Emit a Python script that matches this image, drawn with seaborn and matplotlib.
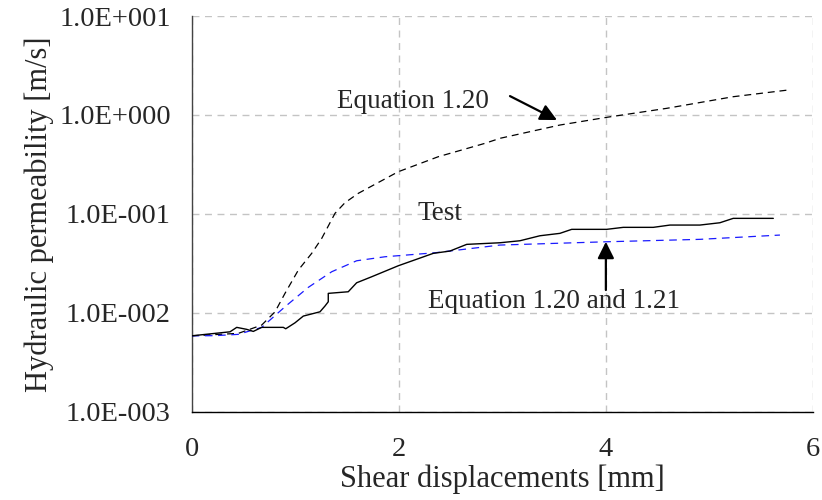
import numpy as np
import pandas as pd
import matplotlib
matplotlib.use("Agg")
import matplotlib.pyplot as plt
import seaborn as sns
from matplotlib.ticker import LogLocator, FixedLocator, NullFormatter

# ---- data ----
test_x = [0.00, 0.370, 0.435, 0.531, 0.595, 0.676, 0.885, 0.908, 0.998, 1.078, 1.239, 1.287,
          1.319, 1.319, 1.512, 1.593, 1.738, 1.995, 2.333, 2.494, 2.656, 2.977, 3.170, 3.363,
          3.556, 3.670, 4.008, 4.168, 4.458, 4.619, 4.908, 5.101, 5.230, 5.617]
test_y = [0.00585, 0.00642, 0.00712, 0.00680, 0.00648, 0.00712, 0.00712, 0.00689, 0.00792,
          0.00926, 0.01023, 0.01169, 0.01292, 0.01571, 0.01631, 0.02010, 0.02312, 0.02987,
          0.03987, 0.04206, 0.04915, 0.05102, 0.05346, 0.06005, 0.06350, 0.06972, 0.06972,
          0.07304, 0.07304, 0.07703, 0.07703, 0.08128, 0.09004, 0.09004]

eq120_x = [0.0, 0.450, 0.676, 0.805, 0.901, 1.030, 1.159, 1.256, 1.384, 1.480, 1.609, 1.995,
           2.381, 2.832, 2.977, 3.556, 4.008, 4.588, 5.230, 5.761]
eq120_y = [0.00585, 0.00619, 0.00751, 0.01023, 0.01571, 0.02702, 0.03987, 0.05653, 0.1012,
           0.1295, 0.1612, 0.2666, 0.3779, 0.5161, 0.5799, 0.7903, 0.9456, 1.166, 1.528, 1.786]

eq121_x = [0.0, 0.225, 0.450, 0.676, 0.901, 1.126, 1.352, 1.593, 1.867, 2.350, 2.977, 4.008,
           4.908, 5.681]
eq121_y = [0.00585, 0.00587, 0.00605, 0.00712, 0.01150, 0.01806, 0.02598, 0.03355, 0.03684,
           0.04043, 0.04836, 0.05222, 0.05524, 0.06103]

x_ticks = [0, 2, 4, 6]
y_ticks = [1e-3, 1e-2, 1e-1, 1e0, 1e1]
y_tick_labels = ["1.0E-003", "1.0E-002", "1.0E-001", "1.0E+000", "1.0E+001"]

# ---- style ----
sns.set_style("white")
plt.rcParams["font.family"] = ["Liberation Serif", "DejaVu Serif"]
plt.rcParams["lines.scale_dashes"] = False

fig = plt.figure(figsize=(8.22, 5.0), dpi=100)
ax = fig.add_axes([0.2332, 0.1766, 0.989 - 0.2332, 0.968 - 0.1766])

df_test = pd.DataFrame({"x": test_x, "y": test_y})
df_120 = pd.DataFrame({"x": eq120_x, "y": eq120_y})
df_121 = pd.DataFrame({"x": eq121_x, "y": eq121_y})

sns.lineplot(data=df_120, x="x", y="y", ax=ax, estimator=None, sort=False,
             color="black", lw=0.9, linestyle=(0, (5, 3.5)), zorder=3)
sns.lineplot(data=df_121, x="x", y="y", ax=ax, estimator=None, sort=False,
             color="#1a1aff", lw=0.9, linestyle=(0, (5.5, 4)), zorder=3)
sns.lineplot(data=df_test, x="x", y="y", ax=ax, estimator=None, sort=False,
             color="black", lw=1.0, zorder=4)

ax.set_yscale("log")
ax.set_xlim(0, 6)
ax.set_ylim(1e-3, 1e1)

ax.xaxis.set_major_locator(FixedLocator(x_ticks))
ax.xaxis.set_minor_locator(FixedLocator([1, 3, 5]))
ax.set_xticklabels([str(v) for v in x_ticks])
ax.yaxis.set_major_locator(FixedLocator(y_ticks))
ax.set_yticklabels(y_tick_labels)
ax.yaxis.set_minor_locator(LogLocator(base=10, subs=np.arange(2, 10)))
ax.yaxis.set_minor_formatter(NullFormatter())

ax.grid(True, which="major", color="#c4c4c4", linestyle=(0, (5, 4)), lw=1.0)
ax.set_axisbelow(True)

for s in ["top", "right"]:
    ax.spines[s].set_visible(False)
ax.spines["left"].set_color("#444444")
ax.spines["bottom"].set_color("black")
ax.spines["left"].set_linewidth(1.0)
ax.spines["bottom"].set_linewidth(1.0)

ax.tick_params(axis="x", which="major", direction="inout", length=14, width=1.0,
               color="#444444", labelsize=20.5, pad=11)
ax.tick_params(axis="x", which="minor", direction="out", length=5, width=1.0, color="#666666")
ax.tick_params(axis="y", which="major", direction="out", length=8, width=1.0,
               color="#444444", labelsize=20.5, pad=7)
ax.tick_params(axis="y", which="minor", direction="out", length=4, width=0.8, color="#666666")

ax.set_xlabel("Shear displacements [mm]", fontsize=22, labelpad=2)
ax.set_ylabel("Hydraulic permeability [m/s]", fontsize=22, labelpad=4)

# ---- annotations ----
ax.text(1.40, 1.17, "Equation 1.20", fontsize=19.5, va="baseline", ha="left")
ax.annotate("", xy=(3.528, 0.888), xytext=(3.074, 1.55),
            arrowprops=dict(arrowstyle="-|>,head_length=1.0,head_width=0.5",
                            color="black", lw=1.6, shrinkA=0, shrinkB=0))
ax.text(2.185, 0.0865, "Test", fontsize=19.5, va="baseline", ha="left")
ax.text(2.282, 0.01116, "Equation 1.20 and 1.21", fontsize=19.5, va="baseline", ha="left")
ax.annotate("", xy=(4.0, 0.0522), xytext=(4.0, 0.01698),
            arrowprops=dict(arrowstyle="-|>,head_length=1.0,head_width=0.5",
                            color="black", lw=1.6, shrinkA=0, shrinkB=0))

fig.savefig("out.png", dpi=100)
